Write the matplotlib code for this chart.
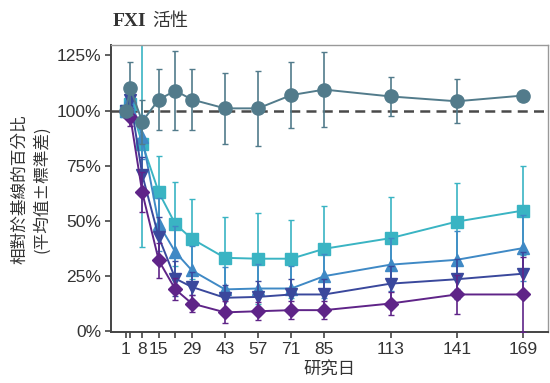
import matplotlib
matplotlib.use("Agg")
import matplotlib.pyplot as plt

days = [1, 3, 8, 15, 22, 29, 43, 57, 71, 85, 113, 141, 169]
tick_days = [1, 3, 8, 15, 22, 29, 43, 57, 71, 85, 113, 141, 169]
tick_labels = ["1", "", "8", "15", "", "29", "43", "57", "71", "85", "113", "141", "169"]
y_ticks = [0, 25, 50, 75, 100, 125]
y_tick_labels = ["0%", "25%", "50%", "75%", "100%", "125%"]

placebo = [100, 110, 95, 105, 109, 105, 101, 101, 107, 109.5, 106.4, 104.2, 106.8]
placebo_sd = [0, 12, 10, 14, 18, 14, 16, 17, 15, 17, 9, 10, 1]

square = [100, 103, 85, 63, 48.6, 41.9, 33.3, 32.9, 32.9, 37.4, 42.2, 49.7, 54.7]
square_sd = [0, 5, 47, 16.5, 19, 18, 18.7, 20.7, 17.7, 19.3, 18.5, 17.7, 20]

tri_up = [100, 106, 88, 48.6, 35.9, 27.6, 19, 19.4, 19.4, 25, 30.2, 32.4, 37.7]
tri_up_sd = [0, 5, 10, 12, 12, 11, 10, 11, 10, 10, 12, 13, 15]

tri_down = [100, 105, 71, 42.6, 23.9, 20.1, 15.2, 15.6, 16.7, 16.7, 21.6, 23.6, 26.1]
tri_down_sd = [0, 5, 8, 9, 8, 7, 6, 7, 7, 7, 8, 9, 10]

diamond = [100, 97, 63, 32.1, 19, 12.6, 8.6, 9.1, 9.6, 9.6, 12.6, 16.7, 16.7]
diamond_sd = [0, 4, 9, 8, 5, 4, 5, 4, 4, 4, 5, 9, 17]

fig = plt.figure(figsize=(5.5, 3.83), dpi=100)
ax = fig.add_axes([111/550, 1-332/383, (548-111)/550, (332-45)/383])

ax.axhline(100, color="#4a4a4a", lw=1.8, ls=(0, (4, 2.5)), zorder=1)

series = [
    (square, square_sd, "#3ab4c3", "s", 8),
    (tri_up, tri_up_sd, "#3f89c5", "^", 9),
    (tri_down, tri_down_sd, "#3a489c", "v", 9),
    (diamond, diamond_sd, "#5f2488", "D", 7),
    (placebo, placebo_sd, "#527b8b", "o", 9.5),
]
for i, (vals, sd, col, mk, ms) in enumerate(series):
    ax.errorbar(days, vals, yerr=sd, color=col, marker=mk, ms=ms, lw=1.4,
                elinewidth=1.2, capsize=2, capthick=1.0, mec=col,
                zorder=2 + i, clip_on=True)

ax.set_xlim(-5.2, 179.6)
ax.set_ylim(-0.3, 129.7)
ax.set_xticks(tick_days)
ax.set_xticklabels(tick_labels)
ax.set_yticks(y_ticks)
ax.set_yticklabels(y_tick_labels)

for lab in ax.get_xticklabels() + ax.get_yticklabels():
    lab.set_fontfamily("Liberation Sans")
    lab.set_fontsize(12.5)
    lab.set_color("#333333")

ax.tick_params(axis="both", direction="out", length=4, width=1.2, color="#444444", pad=3)
for s in ["left", "bottom"]:
    ax.spines[s].set_color("#444444")
    ax.spines[s].set_linewidth(1.4)
for s in ["top", "right"]:
    ax.spines[s].set_color("#999999")
    ax.spines[s].set_linewidth(1.0)

cjk = ["Noto Sans CJK TC", "DejaVu Sans"]
ax.set_xlabel("研究日", family=cjk, fontsize=12.5, color="#333333", labelpad=3)

fig.text(20/550, 1-189/383, "相對於基線的百分比", rotation=90, family=cjk,
         fontsize=12, color="#333333", ha="center", va="center")
fig.text(42/550, 1-189/383, "(平均值±標準差)", rotation=90, family=cjk,
         fontsize=12, color="#333333", ha="center", va="center")

fig.text(113/550, 1-21/383, "FXI", family=["Liberation Serif"], weight="bold",
         fontsize=14, color="#333333", ha="left", va="center")
fig.text(152/550, 1-21/383, "活性", family=cjk, fontsize=13,
         color="#333333", ha="left", va="center")

fig.savefig("out.png", dpi=100)
